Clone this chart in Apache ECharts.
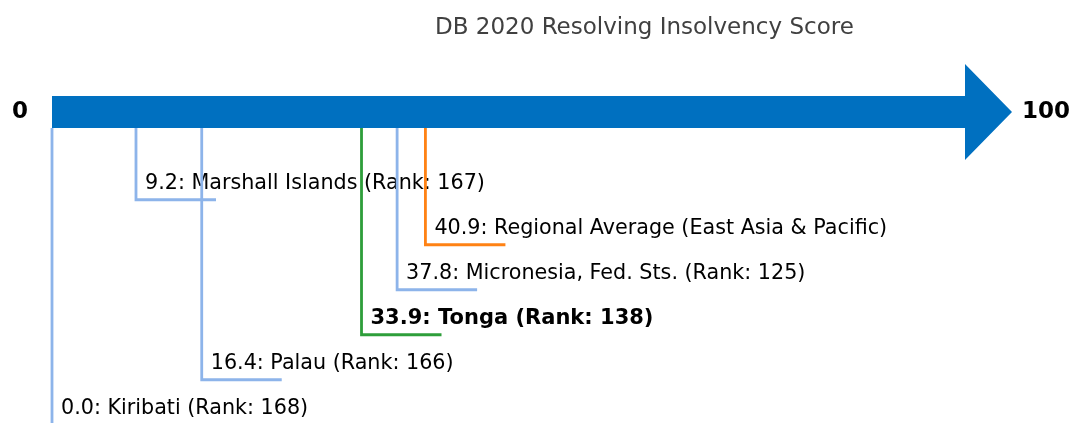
<!DOCTYPE html>
<html>
<head>
<meta charset="utf-8">
<script src="https://cdn.jsdelivr.net/npm/echarts@6/dist/echarts.min.js"></script>
<style>
html,body{margin:0;padding:0;background:#fff;}
#chart{width:1072px;height:423px;}
</style>
</head>
<body>
<div id="chart"></div>
<script>
// ---- data ----
const titleText = 'DB 2020 Resolving Insolvency Score';
const scaleMin = 0;
const scaleMax = 100;
const endLabels = ['0', '100'];
const names = ['Kiribati', 'Palau', 'Tonga', 'Micronesia, Fed. Sts.', 'Regional Average (East Asia & Pacific)', 'Marshall Islands'];
const scores = [0.0, 16.4, 33.9, 37.8, 40.9, 9.2];
const ranks = [168, 166, 138, 125, null, 167];
const kinds = ['peer', 'peer', 'focus', 'peer', 'regional', 'peer'];
const levels = [6, 5, 4, 3, 2, 1];

// ---- styles ----
const FONT = 'DejaVu Sans';
const colors = { peer: '#8db4ea', focus: '#2e9e3a', regional: '#ff8214' };
const barColor = '#0070c0';
const barLevel = -0.95;

const markerData = scores.map((s, i) => [s, levels[i], i]);

function labelText(i) {
  const v = scores[i].toFixed(1);
  return ranks[i] == null ? v + ': ' + names[i] : v + ': ' + names[i] + ' (Rank: ' + ranks[i] + ')';
}

const chart = echarts.init(document.getElementById('chart'), null, { renderer: 'canvas' });
chart.setOption({
  animation: false,
  title: {
    text: titleText,
    left: 430, top: 12,
    textStyle: { fontFamily: FONT, fontSize: 23, fontWeight: 'normal', color: '#404040' }
  },
  grid: { left: 52, right: 107, top: 112, bottom: 0.5 },
  xAxis: { type: 'value', min: scaleMin, max: scaleMax, show: false },
  yAxis: { type: 'value', min: barLevel, max: 5.95, inverse: true, show: false },
  series: [
    {
      type: 'custom', clip: false, z: 1,
      data: [[scaleMin, scaleMax]],
      renderItem: function (params, api) {
        const a = api.coord([api.value(0), barLevel]);
        const b = api.coord([api.value(1), barLevel]);
        const yc = a[1];
        return {
          type: 'polygon',
          shape: { points: [[a[0], yc - 16], [b[0], yc - 16], [b[0], yc - 48], [b[0] + 47, yc], [b[0], yc + 48], [b[0], yc + 16], [a[0], yc + 16]] },
          style: { fill: barColor }
        };
      }
    },
    {
      type: 'custom', clip: false, z: 2,
      data: [[scaleMin, 0], [scaleMax, 1]],
      renderItem: function (params, api) {
        const p = api.coord([api.value(0), barLevel]);
        const isLeft = api.value(1) === 0;
        return {
          type: 'text',
          style: {
            text: endLabels[api.value(1)],
            x: isLeft ? p[0] - 24 : p[0] + 57,
            y: p[1],
            textAlign: isLeft ? 'right' : 'left',
            textVerticalAlign: 'middle',
            fontFamily: FONT, fontSize: 23, fontWeight: 'bold', fill: '#000'
          }
        };
      }
    },
    {
      type: 'custom', clip: false, z: 3,
      data: markerData,
      renderItem: function (params, api) {
        const i = api.value(2);
        const p = api.coord([api.value(0), api.value(1)]);
        const bold = kinds[i] === 'focus';
        return {
          type: 'text',
          style: {
            text: labelText(i),
            x: p[0] + 9, y: p[1] - 16,
            textAlign: 'left', textVerticalAlign: 'middle',
            fontFamily: FONT, fontSize: bold ? 21 : 20.7,
            fontWeight: bold ? 'bold' : 'normal',
            fill: '#000'
          }
        };
      }
    },
    {
      type: 'custom', clip: false, z: 4,
      data: markerData,
      renderItem: function (params, api) {
        const i = api.value(2);
        const top = api.coord([api.value(0), barLevel]);
        const p = api.coord([api.value(0), api.value(1)]);
        return {
          type: 'polyline',
          shape: { points: [[p[0], top[1] + 16], [p[0], p[1]], [p[0] + 80, p[1]]] },
          style: { stroke: colors[kinds[i]], lineWidth: 2.8, fill: null }
        };
      }
    }
  ]
});
</script>
</body>
</html>
